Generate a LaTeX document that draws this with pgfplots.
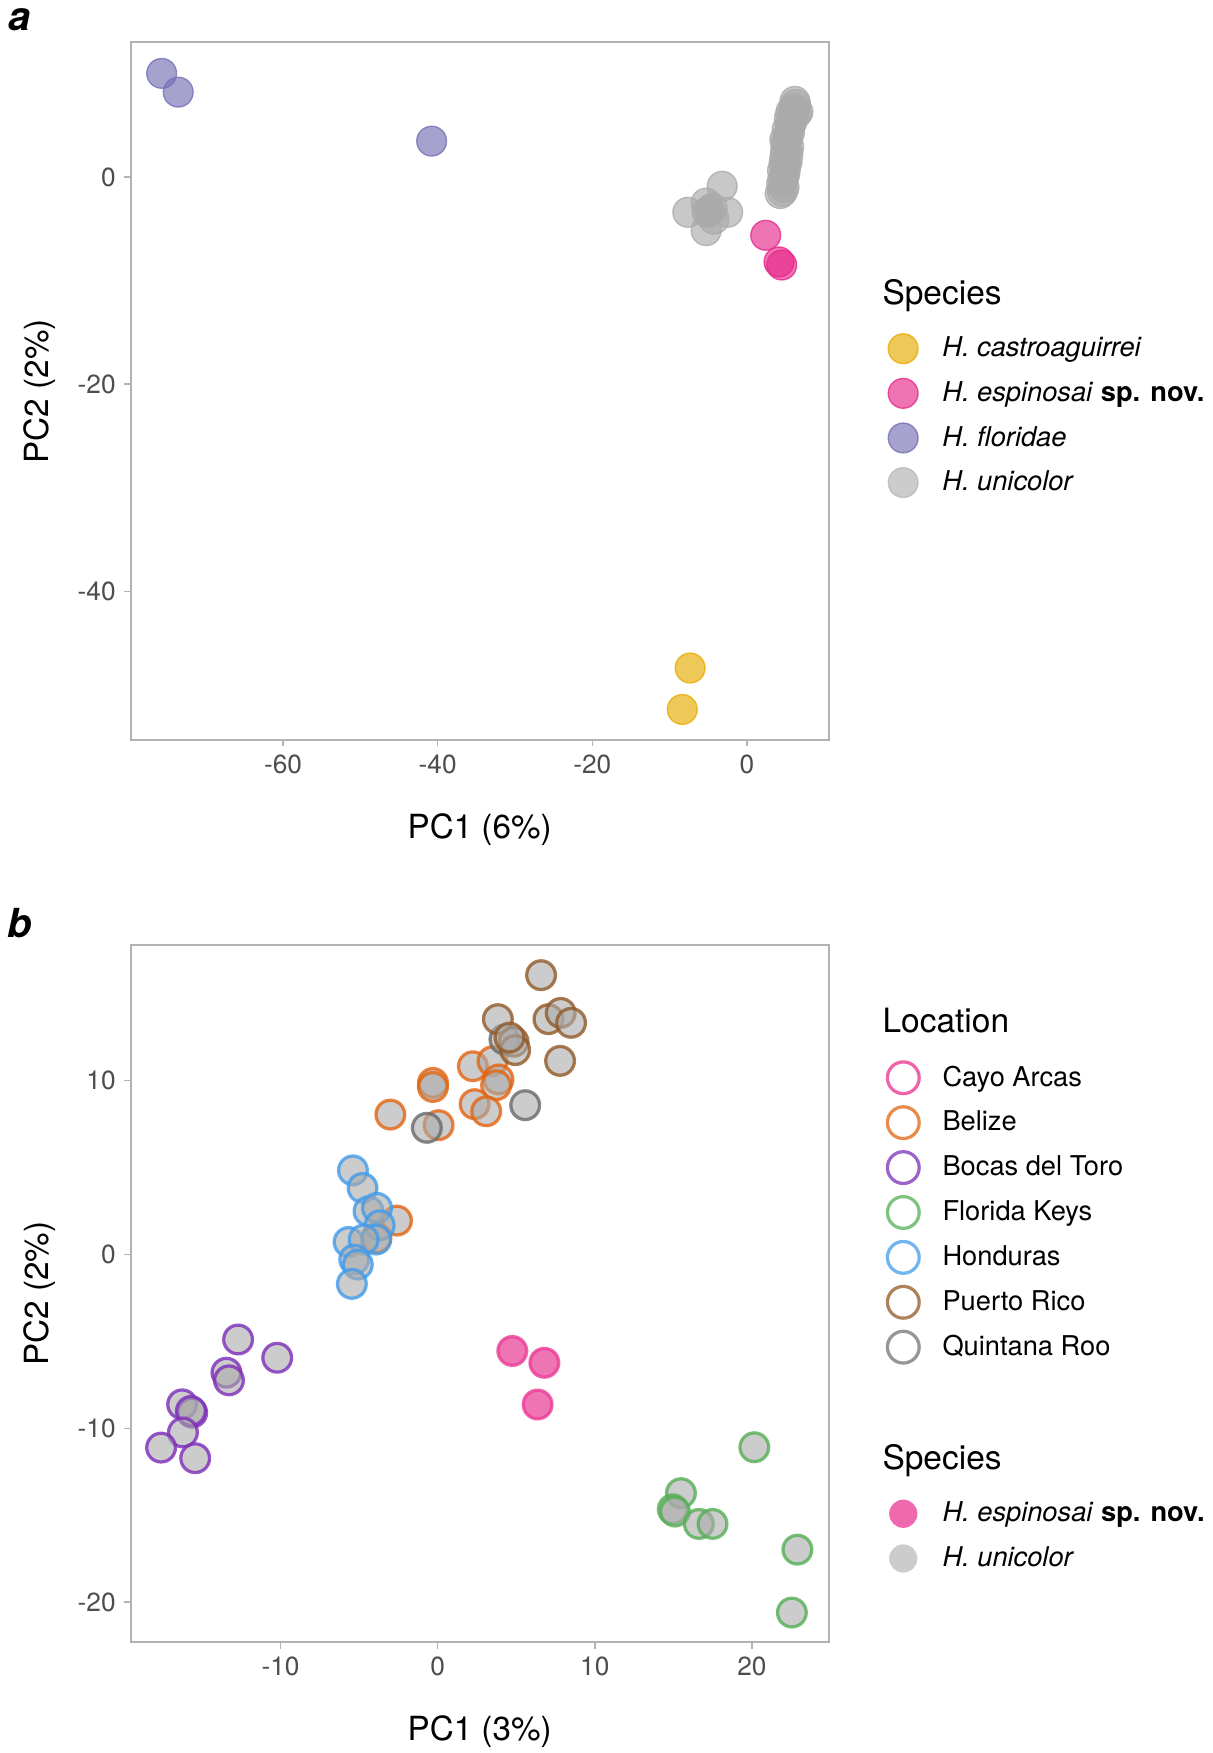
\documentclass[border=0pt]{standalone}
\usepackage{fontspec}
\setmainfont{TeX Gyre Heros}
\usepackage{pgfplots}
\pgfplotsset{compat=1.18}
\definecolor{ayel}{RGB}{230,171,2}
\definecolor{apink}{RGB}{231,41,138}
\definecolor{apur}{RGB}{117,112,179}
\definecolor{agray}{RGB}{170,170,170}
\definecolor{framec}{RGB}{179,179,179}
\definecolor{tickc}{RGB}{77,77,77}
\definecolor{lcayo}{RGB}{236,60,150}
\definecolor{lbel}{RGB}{228,100,15}
\definecolor{lboc}{RGB}{125,45,185}
\definecolor{lflo}{RGB}{85,175,85}
\definecolor{lhon}{RGB}{65,155,235}
\definecolor{lpr}{RGB}{145,90,40}
\definecolor{lqr}{RGB}{105,105,105}
\pgfplotsset{
 mystyle/.style={
  scale only axis, width=279.1pt, height=279pt,
  axis line style={draw=framec, line width=0.8pt},
  tick style={draw=framec, line width=0.6pt},
  major tick length=2.5pt, tick align=outside,
  xtick pos=bottom, ytick pos=left,
  ticklabel style={font=\fontsize{10.5}{12}\selectfont, text=tickc},
  label style={font=\fontsize{13.3}{15}\selectfont},
  xlabel style={at={(axis description cs:0.5,-0.128)}, anchor=center},
  ylabel style={at={(axis description cs:-0.131,0.5)}, anchor=center},
  legend cell align=left,
 },
 pa/.style={only marks, mark=*, mark size=5.95pt, forget plot,
  mark options={draw=#1, fill=#1, fill opacity=0.65, draw opacity=0.8, line width=0.55pt}},
 pb/.style={only marks, mark=*, mark size=5.75pt, forget plot,
  mark options={draw=#1, fill=agray, fill opacity=0.6, draw opacity=0.8, line width=1.3pt}},
}
\begin{document}
\begin{tikzpicture}
\path[use as bounding box] (0pt,0pt) rectangle (484.8pt,-701.2pt);
\node[font=\bfseries\itshape\fontsize{16}{18}\selectfont, inner sep=0pt] at (8pt,-8pt) {a};
\node[font=\bfseries\itshape\fontsize{16}{18}\selectfont, inner sep=0pt] at (8pt,-369.4pt) {b};
\node[font=\fontsize{13.4}{15}\selectfont, inner sep=0pt, anchor=west] at (352.8pt,-118.3pt) {Species};
\node[font=\fontsize{13.4}{15}\selectfont, inner sep=0pt, anchor=west] at (352.8pt,-408.3pt) {Location};
\node[font=\fontsize{13.4}{15}\selectfont, inner sep=0pt, anchor=west] at (352.8pt,-584.3pt) {Species};

% ---------------- panel a ----------------
\begin{axis}[mystyle, at={(52.3pt,-296pt)}, anchor=south west,
  xmin=-79.7, xmax=10.55, ymin=-54.35, ymax=12.98,
  xtick={-60,-40,-20,0}, xticklabels={-60,-40,-20,0},
  ytick={-40,-20,0}, yticklabels={-40,-20,0},
  xlabel={PC1 (6\%)}, ylabel={PC2 (2\%)},
  legend style={at={(axis description cs:1.0847,0.5833)}, anchor=north west,
    draw=none, fill=none, inner sep=0pt, outer sep=0pt, row sep=5.4pt,
    font=\fontsize{10.9}{13}\selectfont,
    /tikz/every odd column/.append style={column sep=9.45pt},
    nodes={inner sep=0pt}},
  legend image code/.code={\path[#1] (0pt,0pt) circle (5.95pt);},
]
\addplot[pa=agray] coordinates {
(-3.2,-0.89) (-5.28,-2.52) (-7.65,-3.41) (-5.16,-3.41) (-2.49,-3.41)
(-4.27,-4.08) (-5.28,-5.18) (-4.86,-3.28) (-4.5,-3.0)
(4.3,-1.6) (4.6,-1.4) (4.8,-1.0) (4.5,-0.6) (4.7,-0.2) (4.9,0.3)
(4.6,0.6) (5.0,0.9) (4.8,1.3) (5.2,1.5) (4.9,1.9) (5.3,2.2)
(5.0,2.6) (5.4,2.9) (5.1,3.3) (4.9,3.6) (5.3,3.9) (5.5,4.3)
(5.2,4.6) (5.6,5.0) (5.8,5.3) (5.5,5.7) (6.0,5.9) (6.4,6.1)
(5.7,6.3) (6.1,6.6) (6.3,7.0) (6.2,7.3) (6.6,6.3)
};
\addplot[pa=apur] coordinates {(-75.7,10.0) (-73.56,8.19) (-40.78,3.46)};
\addplot[pa=ayel] coordinates {(-7.35,-47.4) (-8.36,-51.4)};
\addplot[pa=apink] coordinates {(2.43,-5.63) (4.15,-8.2) (4.5,-8.5)};
\addlegendimage{draw=ayel, fill=ayel, fill opacity=0.65, draw opacity=0.8, line width=0.55pt}
\addlegendentry{\textit{H. castroaguirrei}}
\addlegendimage{draw=apink, fill=apink, fill opacity=0.65, draw opacity=0.8, line width=0.55pt}
\addlegendentry{\textit{H. espinosai} \textbf{sp. nov.}}
\addlegendimage{draw=apur, fill=apur, fill opacity=0.65, draw opacity=0.8, line width=0.55pt}
\addlegendentry{\textit{H. floridae}}
\addlegendimage{draw=agray, fill=agray, fill opacity=0.6, draw opacity=0.6, line width=0.55pt}
\addlegendentry{\textit{H. unicolor}}
\end{axis}

% ---------------- panel b ----------------
\begin{axis}[mystyle, at={(52.3pt,-656.9pt)}, anchor=south west,
  xmin=-19.53, xmax=24.87, ymin=-22.31, ymax=17.82,
  xtick={-10,0,10,20}, xticklabels={-10,0,10,20},
  ytick={-20,-10,0,10}, yticklabels={-20,-10,0,10},
  xlabel={PC1 (3\%)}, ylabel={PC2 (2\%)},
  legend style={at={(axis description cs:1.0821,0.8344)}, anchor=north west,
    draw=none, fill=none, inner sep=0pt, outer sep=0pt, row sep=3.96pt,
    font=\fontsize{10.9}{13}\selectfont,
    /tikz/every odd column/.append style={column sep=8.7pt},
    nodes={inner sep=0pt}},
  legend image code/.code={\path[#1] (0pt,0pt) circle (6.35pt);},
]
\addplot[pb=lbel] coordinates {
(-0.3,9.87) (-0.3,9.64) (-3.01,8.05) (0.06,7.44) (2.24,10.83) (3.49,11.12)
(3.87,10.07) (3.72,9.74) (2.35,8.65) (3.09,8.24) (-2.59,1.95) (-3.9,0.95)
};
\addplot[pb=lqr] coordinates {(4.25,12.37) (5.57,8.59) (-0.69,7.29)};
\addplot[pb=lpr] coordinates {
(6.58,16.07) (3.83,13.54) (7.05,13.54) (7.83,13.9) (8.49,13.33) (7.79,11.14)
(4.83,12.24) (4.93,11.76) (4.57,12.48)
};
\addplot[pb=lhon] coordinates {
(-5.39,4.84) (-4.78,3.83) (-4.40,2.49) (-3.86,2.68) (-3.69,1.68) (-3.91,0.86)
(-5.67,0.72) (-4.71,0.86) (-5.31,-0.29) (-5.08,-0.58) (-5.46,-1.69)
};
\addplot[pb=lboc] coordinates {
(-12.7,-4.89) (-10.21,-5.94) (-13.44,-6.80) (-13.28,-7.24) (-16.26,-8.62)
(-15.62,-9.1) (-15.7,-9.0) (-16.21,-10.24) (-17.6,-11.11) (-15.43,-11.72)
};
\addplot[pb=lflo] coordinates {
(20.15,-11.09) (15.48,-13.73) (14.96,-14.66) (15.1,-14.79) (16.62,-15.5)
(17.49,-15.5) (22.89,-16.98) (22.54,-20.6)
};
\addplot[only marks, mark=*, mark size=5.75pt, forget plot,
  mark options={draw=lcayo, fill=apink, fill opacity=0.65, draw opacity=0.8, line width=1.3pt}]
  coordinates {(4.75,-5.55) (6.79,-6.23) (6.36,-8.63)};
\addlegendimage{draw=lcayo, draw opacity=0.8, line width=1.3pt}
\addlegendentry{Cayo Arcas}
\addlegendimage{draw=lbel, draw opacity=0.75, line width=1.3pt}
\addlegendentry{Belize}
\addlegendimage{draw=lboc, draw opacity=0.75, line width=1.3pt}
\addlegendentry{Bocas del Toro}
\addlegendimage{draw=lflo, draw opacity=0.75, line width=1.3pt}
\addlegendentry{Florida Keys}
\addlegendimage{draw=lhon, draw opacity=0.75, line width=1.3pt}
\addlegendentry{Honduras}
\addlegendimage{draw=lpr, draw opacity=0.75, line width=1.3pt}
\addlegendentry{Puerto Rico}
\addlegendimage{draw=lqr, draw opacity=0.7, line width=1.3pt}
\addlegendentry{Quintana Roo}
\end{axis}

% species legend for panel b
\begin{axis}[mystyle, at={(52.3pt,-656.9pt)}, anchor=south west, hide axis,
  xmin=0, xmax=1, ymin=0, ymax=1,
  legend style={at={(axis description cs:1.0869,0.2045)}, anchor=north west,
    draw=none, fill=none, inner sep=0pt, outer sep=0pt, row sep=6.6pt,
    font=\fontsize{10.9}{13}\selectfont,
    /tikz/every odd column/.append style={column sep=10.05pt},
    nodes={inner sep=0pt}},
  legend image code/.code={\path[#1] (0pt,0pt) circle (5.65pt);},
]
\addlegendimage{draw=none, fill=apink, fill opacity=0.7}
\addlegendentry{\textit{H. espinosai} \textbf{sp. nov.}}
\addlegendimage{draw=none, fill=agray, fill opacity=0.6}
\addlegendentry{\textit{H. unicolor}}
\end{axis}
\end{tikzpicture}
\end{document}
